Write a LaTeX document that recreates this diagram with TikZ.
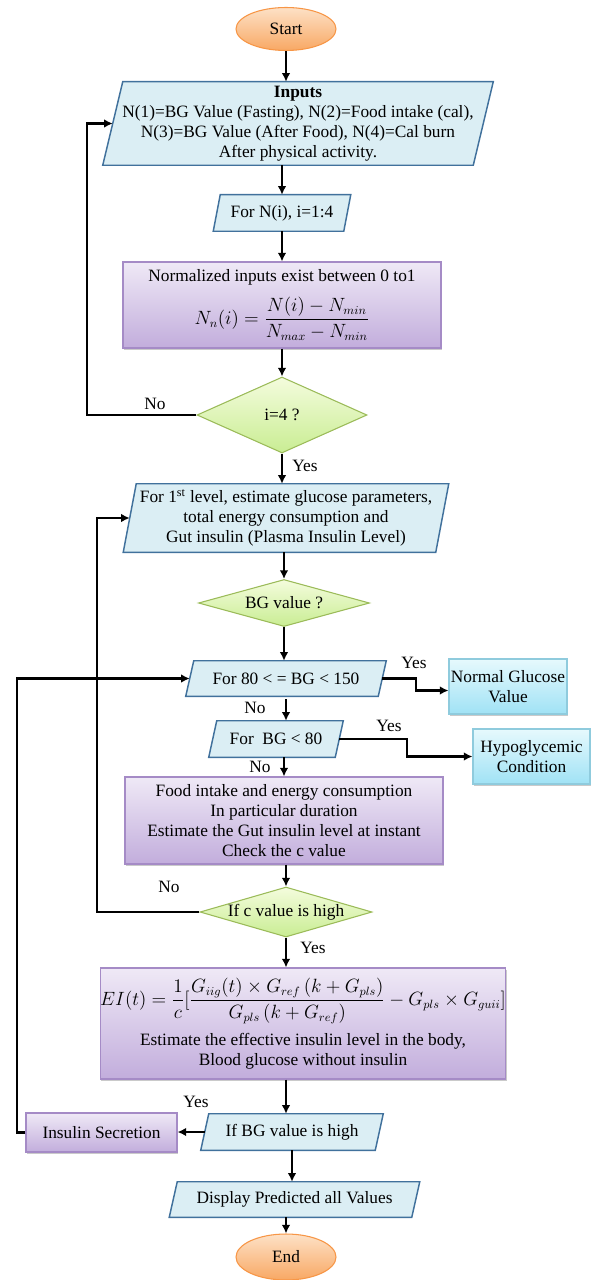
\documentclass[tikz,border=0pt]{standalone}
\usepackage{fontspec}
\setmainfont{Liberation Serif}
\usepackage{amsmath}
\usetikzlibrary{shapes.geometric,arrows.meta,backgrounds,shadows,calc}

\definecolor{ioFill}{HTML}{DBEEF4}
\definecolor{ioLine}{HTML}{41719C}
\definecolor{procTop}{HTML}{EFE9F6}
\definecolor{procBot}{HTML}{C2ADDC}
\definecolor{procLine}{HTML}{A58BC6}
\definecolor{decTop}{HTML}{F4FCDD}
\definecolor{decBot}{HTML}{C9ED93}
\definecolor{decLine}{HTML}{9BBB59}
\definecolor{termTop}{HTML}{FDE1C6}
\definecolor{termBot}{HTML}{F8A864}
\definecolor{termLine}{HTML}{F79646}
\definecolor{resTop}{HTML}{E6F9FD}
\definecolor{resBot}{HTML}{A0E2F5}
\definecolor{resLine}{HTML}{8FCBDD}

\tikzset{
  base/.style={inner sep=0pt, align=center, font=\fontsize{13}{15}\selectfont},
  iobox/.style n args={2}{base, minimum width=#1*0.75pt, minimum height=#2*0.75pt},
  ioframe/.style={draw=ioLine, line width=1.1pt, fill=ioFill, line join=miter},
  softshadow/.style={drop shadow={shadow xshift=0.8pt, shadow yshift=-1.2pt, opacity=0.35, fill=black!60}},
  procbox/.style n args={2}{base, draw=procLine, line width=0.8pt, top color=procTop, bottom color=procBot,
    minimum width=#1*0.75pt, minimum height=#2*0.75pt, softshadow},
  resultbox/.style n args={2}{base, draw=resLine, line width=0.8pt, top color=resTop, bottom color=resBot,
    minimum width=#1*0.75pt, minimum height=#2*0.75pt, softshadow},
  decision/.style n args={3}{base, diamond, aspect=#3, draw=decLine, line width=0.8pt,
    top color=decTop, bottom color=decBot, minimum width=#1*0.75pt, minimum height=#2*0.75pt},
  terminal/.style n args={2}{base, ellipse, draw=termLine, line width=0.8pt, top color=termTop, bottom color=termBot,
    minimum width=#1*0.75pt, minimum height=#2*0.75pt},
  arr/.style={line width=2pt, -{Latex[length=6.5pt,width=6.5pt]}},
  lbl/.style={base},
}

% slanted input/output frame behind a named node (slant in px)
\newcommand\ioshape[2]{%
  \begin{pgfonlayer}{background}
    \draw[ioframe] ($(#1.south west)+(-#2/2,0)$) -- ($(#1.south east)+(-#2/2,0)$)
      -- ($(#1.north east)+(#2/2,0)$) -- ($(#1.north west)+(#2/2,0)$) -- cycle;
  \end{pgfonlayer}}

\newcommand\mathsz{\fontsize{13.5}{16}\selectfont}

\begin{document}
\begin{tikzpicture}[x=0.75pt, y=-0.75pt]
\useasboundingbox (0,0) rectangle (591,1280);

% ---- main column ----
\node[terminal={100}{43}] (nstart) at (286,29) {Start};

\node[iobox={370}{83}] (inputs) at (298,123.5)
  {\textbf{Inputs}\\N(1)=BG Value (Fasting), N(2)=Food intake (cal),\\
   N(3)=BG Value (After Food), N(4)=Cal burn\\After physical activity.};
\ioshape{inputs}{20}

\node[iobox={130}{36}] (forn) at (282,213) {For N(i), i=1:4};
\ioshape{forn}{7}

\node[procbox={318}{86}] (norm) at (282,305)
  {Normalized inputs exist between 0 to1\\[8pt]
   {\mathsz $N_n(i)=\dfrac{N(i)-N_{min}}{N_{max}-N_{min}}$}};

\node[decision={170}{76}{2.24}] (dec4) at (282,415) {i=4 ?};

\node[iobox={312}{68}] (lvl1) at (286,518)
  {For 1\textsuperscript{st} level, estimate glucose parameters,\\
   total energy consumption and\\Gut insulin (Plasma Insulin Level)};
\ioshape{lvl1}{13}

\node[decision={171}{47}{3.64}] (bgval) at (284,603) {BG value ?};

\node[iobox={192}{35}] (f80) at (286,678.5) {For 80 < = BG < 150};
\ioshape{f80}{8}

\node[resultbox={118}{55}] (normal) at (508,686.5) {Normal Glucose\\Value};

\node[iobox={126}{36}] (f80b) at (276,739) {For~~BG < 80};
\ioshape{f80b}{8}

\node[resultbox={117}{55}] (hypo) at (531.5,756.5) {Hypoglycemic\\Condition};

\node[procbox={318}{87}] (food) at (284,820.5)
  {Food intake and energy consumption\\In particular duration\\
   Estimate the Gut insulin level at instant\\Check the c value};

\node[decision={172}{50}{3.44}] (cval) at (286,912) {If c value is high};

\node[procbox={398}{111}] (ei) at (303,1023.5)
  {{\mathsz $EI(t)=\dfrac{1}{c}[\dfrac{G_{iig}(t)\times G_{ref}\left(k+G_{pls}\right)}{G_{pls}\left(k+G_{ref}\right)}-G_{pls}\times G_{guii}]$}\\[6pt]
   Estimate the effective insulin level in the body,\\Blood glucose without insulin};

\node[iobox={174}{36}] (bghigh) at (292,1132) {If BG value is high};
\ioshape{bghigh}{8}

\node[procbox={151}{39}] (ins) at (101.5,1132.5) {Insulin Secretion};

\node[iobox={242}{35}] (disp) at (294.5,1199.5) {Display Predicted all Values};
\ioshape{disp}{8}

\node[terminal={100}{46}] (nend) at (286,1257) {End};

% ---- loop and junction columns ----
\coordinate (loopA) at (87,0);
\coordinate (loopB) at (97,0);
\coordinate (loopC) at (17,0);
\coordinate (jA) at (416,0);
\coordinate (jB) at (407,0);

% ---- straight connectors ----
\draw[arr] (nstart.south) -- (nstart.south |- inputs.north);
\draw[arr] (forn.north |- inputs.south) -- (forn.north);
\draw[arr] (forn.south) -- (norm.north);
\draw[arr] (norm.south) -- (dec4.north);
\draw[arr] (dec4.south) -- (dec4.south |- lvl1.north);
\draw[arr] (bgval.north |- lvl1.south) -- (bgval.north);
\draw[arr] (bgval.south) -- (bgval.south |- f80.north);
\draw[arr] ($(f80.south)+(0,3)$) -- (f80.south |- f80b.north);
\draw[arr] (food.north |- f80b.south) -- (food.north);
\draw[arr] (cval.north |- food.south) -- (cval.north);
\draw[arr] (cval.south) -- (cval.south |- ei.north);
\draw[arr] (cval.south |- ei.south) -- (cval.south |- bghigh.north);
\draw[arr] (bghigh.south) -- (bghigh.south |- disp.north);
\draw[arr] (nend.north |- disp.south) -- (nend.north);

% ---- branches ----
\draw[arr] (f80.east) -- (f80.east -| jA) |- ($(normal.west)+(0,4)$);
\draw[arr] (f80b.east) -- (f80b.east -| jB) |- (hypo.west);
\draw[arr] (bghigh.west) -- (bghigh.west -| ins.east);

% ---- loops ----
\draw[arr] (dec4.west) -- (dec4.west -| loopA) |- (inputs.west);
\draw[arr] (cval.west) -- (cval.west -| loopB) |- (lvl1.west);
\draw[arr] (ins.west) -- (ins.west -| loopC) |- (f80.west);

% ---- branch labels ----
\node[lbl] (lNo1) at (155,404) {No};
\node[lbl] (lYes1) at (305,466) {Yes};
\node[lbl] (lYes2) at (414,663) {Yes};
\node[lbl] (lNo2) at (255,708) {No};
\node[lbl] (lYes3) at (389,726) {Yes};
\node[lbl] (lNo3) at (260,767) {No};
\node[lbl] (lNo4) at (169,887) {No};
\node[lbl] (lYes4) at (313,948) {Yes};
\node[lbl] (lYes5) at (196,1102) {Yes};
\end{tikzpicture}
\end{document}
